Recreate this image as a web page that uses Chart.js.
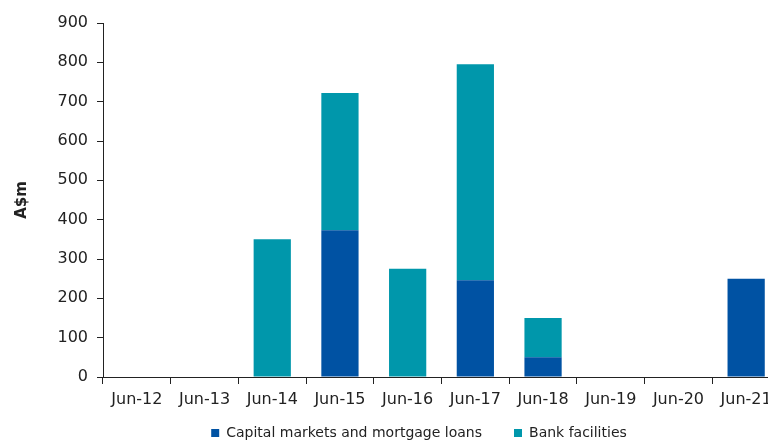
<!DOCTYPE html>
<html>
<head>
<meta charset="utf-8">
<script src="https://cdn.jsdelivr.net/npm/chart.js@4/dist/chart.umd.min.js"></script>
<style>
  html, body { margin: 0; padding: 0; background: #fff; overflow: hidden; }
  #wrap { width: 780px; height: 441px; }
</style>
</head>
<body>
<div id="wrap"><canvas id="chart" width="780" height="441"></canvas></div>
<script>
const labels = ['Jun-12', 'Jun-13', 'Jun-14', 'Jun-15', 'Jun-16', 'Jun-17', 'Jun-18', 'Jun-19', 'Jun-20', 'Jun-21'];
const capitalMarkets = [0, 0, 0, 373, 0, 246, 50, 0, 0, 250];
const bankFacilities = [0, 0, 350, 349, 275, 549, 100, 0, 0, 0];
const yTicks = [0, 100, 200, 300, 400, 500, 600, 700, 800, 900];

const fontFamily = '"DejaVu Sans", Tahoma, sans-serif';
const axisColor = '#222';
const legendPad = 32;

// put the legend where it sits in the picture (the box is also the clip area)
const legendShift = {
  id: 'legendShift',
  afterLayout(chart) {
    const lg = chart.legend;
    if (!lg) return;
    lg.left += 29;
    lg.right += 29;
    lg.top = 433 - legendPad - 7;
    lg.bottom = chart.height;
    lg.height = lg.bottom - lg.top;
  }
};

new Chart(document.getElementById('chart'), {
  type: 'bar',
  data: {
    labels: labels,
    datasets: [
      {
        label: 'Capital markets and mortgage loans',
        data: capitalMarkets,
        backgroundColor: '#0052a3'
      },
      {
        label: 'Bank facilities',
        data: bankFacilities,
        backgroundColor: '#0097ab'
      }
    ]
  },
  options: {
    responsive: false,
    animation: false,
    layout: { padding: { top: 23, left: 0, right: 0, bottom: 0 } },
    datasets: { bar: { barPercentage: 0.55, categoryPercentage: 1 } },
    plugins: {
      tooltip: { enabled: false },
      legend: {
        position: 'bottom',
        maxHeight: 26,
        labels: {
          font: { family: fontFamily, size: 14 },
          color: '#222',
          boxWidth: 8,
          boxHeight: 8,
          padding: legendPad
        }
      }
    },
    scales: {
      x: {
        stacked: true,
        afterFit: (scale) => { scale.height = 38; },
        grid: { display: true, drawOnChartArea: false, drawTicks: true, tickLength: 7, color: axisColor, offset: true },
        border: { color: axisColor, width: 1 },
        ticks: { font: { family: fontFamily, size: 16 }, color: '#222', padding: 6, maxRotation: 0, autoSkip: false }
      },
      y: {
        stacked: true,
        min: 0,
        max: 900,
        afterBuildTicks: (scale) => { scale.ticks = yTicks.map(v => ({ value: v })); },
        afterFit: (scale) => { scale.width = 103; },
        grid: { display: true, drawOnChartArea: false, drawTicks: true, tickLength: 6, color: axisColor },
        border: { color: axisColor, width: 1 },
        ticks: { font: { family: fontFamily, size: 16 }, color: '#222', padding: 9 },
        title: {
          display: true,
          text: 'A$m',
          font: { family: fontFamily, size: 15, weight: 'bold' },
          color: '#222',
          padding: { top: 13, bottom: 0 }
        }
      }
    }
  },
  plugins: [legendShift]
});
</script>
</body>
</html>
